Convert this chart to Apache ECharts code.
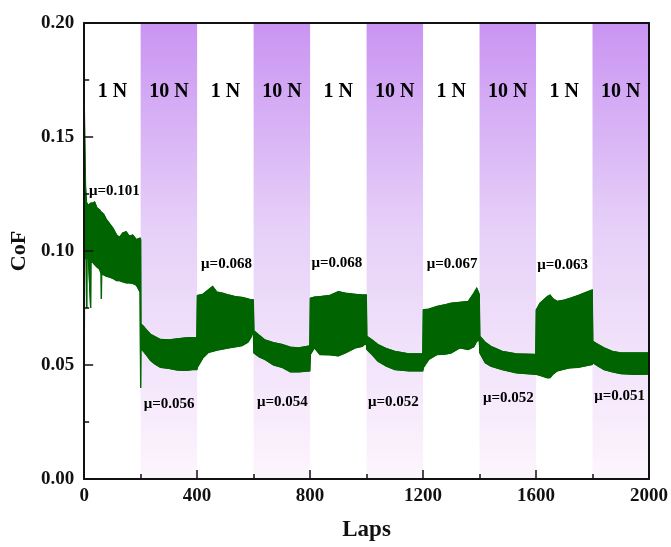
<!DOCTYPE html>
<html><head><meta charset="utf-8">
<script src="https://cdn.jsdelivr.net/npm/echarts@6/dist/echarts.min.js"></script>
<style>html,body{margin:0;padding:0;background:#fff}#c{width:671px;height:547px}</style>
</head><body><div id="c"></div>
<script>
// Laps at which the CoF envelope was read
const laps = [
  0, 2, 5, 8, 9, 10, 15, 23, 24, 30, 37, 45, 55, 60, 61, 62, 70, 78, 90, 102, 115, 125, 137, 149, 160, 172, 185, 198, 200,
  201, 210, 220, 235, 250, 270, 300, 330, 360, 385, 399,
  401, 420, 440, 455, 470, 490, 512, 535, 559, 580, 590, 599,
  601, 620, 640, 670, 700, 730, 760, 799,
  801, 815, 835, 870, 900, 925, 960, 985, 999,
  1001, 1020, 1040, 1070, 1100, 1150, 1199,
  1201, 1220, 1250, 1280, 1300, 1330, 1360, 1380, 1390, 1399,
  1401, 1420, 1440, 1480, 1530, 1599,
  1601, 1614, 1640, 1650, 1660, 1675, 1700, 1722, 1750, 1770, 1799,
  1801, 1820, 1841, 1870, 1900, 1950, 2000
];
// Lower edge of the oscillating CoF trace
const lowerCoF = [
  0.041, 0.100, 0.098, 0.096, 0.075, 0.097, 0.097, 0.075, 0.095, 0.095, 0.094, 0.093, 0.092, 0.090, 0.079, 0.090, 0.0895, 0.089, 0.0885, 0.088, 0.087, 0.087, 0.0865, 0.086, 0.086, 0.0858, 0.085, 0.082, 0.040,
  0.057, 0.056, 0.0545, 0.052, 0.0505, 0.049, 0.0485, 0.0478, 0.0476, 0.048, 0.048,
  0.049, 0.053, 0.0555, 0.056, 0.0565, 0.057, 0.0575, 0.058, 0.0585, 0.060, 0.062, 0.065,
  0.0553, 0.0535, 0.0524, 0.050, 0.049, 0.047, 0.047, 0.0474,
  0.0546, 0.0575, 0.0546, 0.0545, 0.054, 0.0553, 0.0575, 0.0582, 0.0597,
  0.0568, 0.0545, 0.0517, 0.0495, 0.048, 0.0474, 0.0474,
  0.0488, 0.0524, 0.0546, 0.0548, 0.0553, 0.0575, 0.0568, 0.058, 0.0604, 0.061,
  0.0553, 0.051, 0.0495, 0.048, 0.0466, 0.0459,
  0.0459, 0.0455, 0.0444, 0.0445, 0.046, 0.0474, 0.0482, 0.0488, 0.049, 0.0495, 0.0502,
  0.051, 0.0495, 0.048, 0.047, 0.0462, 0.0459, 0.046
];
// Upper edge of the oscillating CoF trace
const upperCoF = [
  0.170, 0.150, 0.128, 0.122, 0.121, 0.121, 0.120, 0.121, 0.121, 0.121, 0.1215, 0.119, 0.118, 0.117, 0.117, 0.117, 0.116, 0.114, 0.112, 0.110, 0.107, 0.106, 0.108, 0.1084, 0.1065, 0.107, 0.105, 0.1057, 0.105,
  0.068, 0.067, 0.0655, 0.0635, 0.0625, 0.0612, 0.061, 0.0615, 0.0619, 0.062, 0.062,
  0.0805, 0.081, 0.083, 0.0845, 0.082, 0.0815, 0.0807, 0.080, 0.0796, 0.079, 0.0786, 0.0786,
  0.065, 0.063, 0.061, 0.0598, 0.059, 0.0578, 0.0575, 0.0584,
  0.0793, 0.0798, 0.080, 0.0805, 0.0822, 0.0815, 0.081, 0.0807, 0.0807,
  0.0626, 0.061, 0.059, 0.0572, 0.056, 0.0549, 0.0549,
  0.0742, 0.0745, 0.0757, 0.0765, 0.0771, 0.0775, 0.0779, 0.0815, 0.0837, 0.081,
  0.0626, 0.060, 0.0582, 0.056, 0.0549, 0.0546,
  0.0742, 0.0771, 0.080, 0.0807, 0.079, 0.0779, 0.0785, 0.0793, 0.0805, 0.0815, 0.0829,
  0.0604, 0.059, 0.0575, 0.056, 0.0553, 0.0553, 0.0553
];
// 10 N load windows
const bandStartLaps = [200, 600, 1000, 1400, 1800];
const bandWidthLaps = 200;
// Load labels
const loadLabels = ['1 N', '10 N', '1 N', '10 N', '1 N', '10 N', '1 N', '10 N', '1 N', '10 N'];
const loadLabelLaps = [100, 300, 500, 700, 900, 1100, 1300, 1500, 1700, 1900];
const loadLabelCoF = 0.170;
// Mean friction annotations
const muLabels = ['μ=0.101', 'μ=0.068', 'μ=0.068', 'μ=0.067', 'μ=0.063', 'μ=0.056', 'μ=0.054', 'μ=0.052', 'μ=0.052', 'μ=0.051'];
const muLaps = [107, 504, 895, 1303, 1694, 301, 702, 1095, 1502, 1896];
const muCoF = [0.1264, 0.0942, 0.0945, 0.0942, 0.0938, 0.0328, 0.0339, 0.0336, 0.0354, 0.0365];
// Axis ticks
const xTickLabels = [0, 400, 800, 1200, 1600, 2000];
const yTickLabels = [0.00, 0.05, 0.10, 0.15, 0.20];

const FONT = '"Liberation Serif", "Times New Roman", serif';
const GREEN = '#006400';
const chart = echarts.init(document.getElementById('c'), null, {renderer: 'canvas'});

const bandGradient = new echarts.graphic.LinearGradient(0, 0, 0, 1, [
  {offset: 0, color: '#c994f2'},
  {offset: 0.45, color: '#e6d0f8'},
  {offset: 1, color: '#fdf5fd'}
]);

const axisText = {fontFamily: FONT, fontWeight: 'bold', fontSize: 19, color: '#111'};

function renderTrace(params, api) {
  const up = laps.map((x, i) => api.coord([x, upperCoF[i]]));
  const lo = laps.map((x, i) => api.coord([x, lowerCoF[i]]));
  const poly = up.concat(lo.slice().reverse());
  return {
    type: 'group',
    children: [
      {type: 'polygon', shape: {points: poly}, style: {fill: GREEN, stroke: GREEN, lineWidth: 1}},
      {type: 'polyline', shape: {points: lo}, style: {fill: null, stroke: GREEN, lineWidth: 1.3}},
      {type: 'polyline', shape: {points: up}, style: {fill: null, stroke: GREEN, lineWidth: 1.3}}
    ]
  };
}

function textSeries(names, xs, ys, size) {
  return {
    type: 'scatter', z: 5, silent: true, symbolSize: 1,
    itemStyle: {color: 'rgba(0,0,0,0)', opacity: 1},
    data: names.map((t, i) => ({name: t, value: [xs[i], ys[i]]})),
    label: {show: true, position: 'inside', formatter: '{b}', opacity: 1,
      fontFamily: FONT, fontWeight: 'bold', fontSize: size, color: '#000',
      textBorderWidth: 0}
  };
}

chart.setOption({
  animation: false,
  backgroundColor: '#fff',
  grid: {left: 81, right: 21, top: 23, bottom: 65, containLabel: false},
  xAxis: [{
    type: 'value', min: xTickLabels[0], max: xTickLabels[xTickLabels.length - 1],
    interval: xTickLabels[1] - xTickLabels[0],
    name: 'Laps', nameLocation: 'middle', nameGap: 40,
    nameTextStyle: {fontFamily: FONT, fontWeight: 'bold', fontSize: 23, color: '#111'},
    axisLine: {show: true, lineStyle: {color: '#111', width: 2}},
    axisTick: {show: true, inside: true, length: 9, lineStyle: {color: '#111', width: 1.5}},
    minorTick: {show: true, splitNumber: 2, length: 5, lineStyle: {color: '#111', width: 1.5}},
    axisLabel: Object.assign({margin: 8, formatter: v => String(v)}, axisText),
    splitLine: {show: false}, z: 10
  }, {
    type: 'value', position: 'top', min: 0, max: 2000,
    axisLine: {show: true, onZero: false, lineStyle: {color: '#111', width: 2}},
    axisTick: {show: false}, axisLabel: {show: false}, splitLine: {show: false}, z: 10
  }],
  yAxis: [{
    type: 'value', min: yTickLabels[0], max: yTickLabels[yTickLabels.length - 1],
    interval: yTickLabels[1] - yTickLabels[0],
    name: 'CoF', nameLocation: 'middle', nameGap: 54, nameRotate: 90,
    nameTextStyle: {fontFamily: FONT, fontWeight: 'bold', fontSize: 22, color: '#111'},
    axisLine: {show: true, lineStyle: {color: '#111', width: 2}},
    axisTick: {show: true, inside: true, length: 9, lineStyle: {color: '#111', width: 1.5}},
    minorTick: {show: true, splitNumber: 2, length: 5, lineStyle: {color: '#111', width: 1.5}},
    axisLabel: Object.assign({margin: 10, formatter: v => v.toFixed(2)}, axisText),
    splitLine: {show: false}, z: 10
  }, {
    type: 'value', position: 'right', min: 0, max: 0.2,
    axisLine: {show: true, onZero: false, lineStyle: {color: '#111', width: 2}},
    axisTick: {show: false}, axisLabel: {show: false}, splitLine: {show: false}, z: 10
  }],
  series: [
    {
      type: 'line', data: [], z: 1, silent: true,
      markArea: {
        silent: true,
        itemStyle: {color: bandGradient, borderWidth: 0},
        data: bandStartLaps.map(s => [{xAxis: s}, {xAxis: s + bandWidthLaps}])
      }
    },
    {
      type: 'custom', z: 3, silent: true, clip: true,
      data: [[laps[0], lowerCoF[0]]],
      encode: {x: 0, y: 1},
      renderItem: renderTrace
    },
    textSeries(loadLabels, loadLabelLaps, loadLabelLaps.map(() => loadLabelCoF), 20),
    textSeries(muLabels, muLaps, muCoF, 15)
  ]
});
</script>
</body></html>
